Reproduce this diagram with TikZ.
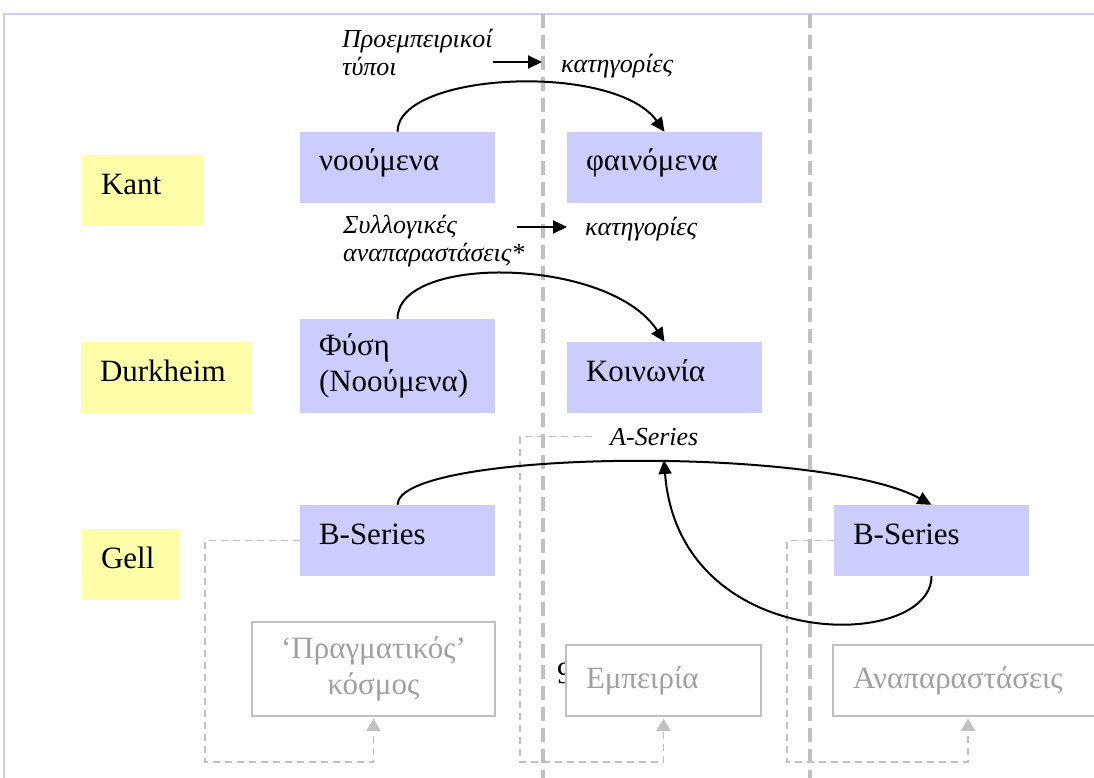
\documentclass[tikz,border=0pt]{standalone}
\usepackage{fontspec}
\setmainfont{Liberation Serif}
\usetikzlibrary{arrows.meta}
\definecolor{boxblue}{HTML}{CCCCFF}
\definecolor{boxyellow}{HTML}{FFFFAA}
\definecolor{linegray}{HTML}{C0C0C0}
\definecolor{textgray}{HTML}{A0A0A0}
\newcommand\bigtxt{\fontsize{31}{36}\selectfont}
\newcommand\smalltxt{\fontsize{26}{27.5}\selectfont\itshape}

\begin{document}
\begin{tikzpicture}[x=1pt,y=-1pt,
    who/.style={fill=boxyellow, font=\bigtxt, align=left, minimum height=71pt,
      inner xsep=19pt, inner ysep=0pt, text height=19pt, text depth=12pt},
    idea/.style={fill=boxblue, font=\bigtxt, align=left, text width=157pt,
      minimum height=71pt, inner xsep=19pt, inner ysep=0pt, text height=19pt, text depth=12pt},
    world/.style={draw=linegray, line width=1.5pt, fill=white, text=textgray, font=\bigtxt,
      align=left, minimum height=71pt, inner xsep=20pt, inner ysep=0pt},
    note/.style={font=\smalltxt, inner sep=0pt, align=left},
    arr/.style={-{Triangle[length=14pt,width=13pt]}, line width=2pt},
    back/.style={linegray, line width=1.5pt, dash pattern=on 7pt off 5pt,
      -{Triangle[length=12pt,width=14pt]}, shorten >=2pt},
    divider/.style={linegray, line width=3.5pt, dash pattern=on 14pt off 7pt}]
  \useasboundingbox (0,0) rectangle (1094,778);
  \clip (0,0) rectangle (1094,778);

  \draw[boxblue, line width=2pt] (1094,14) -- (4,14) -- (4,778);

  %%    % names
  \node[who, text width=84pt] (kant) at (143,190.5) {Kant};
  \node[who, text width=133pt] (durk) at (166.5,377.5) {Durkheim};
  \node[who, text width=60pt] (gell) at (131,564.5) {Gell};

  %%    % Kant
  \node[idea] (nou) at (397.5,167.5) {νοούμενα};
  \node[idea] (fai) at (664.5,167.5) {φαινόμενα};
  \node[note, anchor=north west] (pro) at (342,29) {Προεμπειρικοί\\τύποι};
  \node[note, anchor=base west] (kat1) at (561,73) {κατηγορίες};
  \coordinate (k1s) at (493,62);
  \coordinate (k1e) at (542,62);

  %%    % Durkheim
  \node[idea, text height=, text depth=, minimum height=94pt] (fys) at (397.5,366) {Φύση\\(Νοούμενα)};
  \node[idea] (koi) at (664.5,377.5) {Κοινωνία};
  \node[note, anchor=north west] (syl) at (343,215) {Συλλογικές\\αναπαραστάσεις*};
  \node[note, anchor=base west] (kat2) at (585,235) {κατηγορίες};
  \coordinate (k2s) at (517,227);
  \coordinate (k2e) at (567,227);

  %%    % Gell
  \node[idea] (bl) at (397.5,540.5) {B-Series};
  \node[idea] (br) at (931.5,540.5) {B-Series};
  \node[note, anchor=base west] (aser) at (610,445) {A-Series};
  \coordinate (ameet) at (664,460);

  \node[world, align=center, text width=203pt, minimum height=94pt] (prag) at (373.5,669) {‘Πραγματικός’\\κόσμος};
  \node[font=\bigtxt, anchor=base west, inner sep=0pt] (nine) at (557,683) {9};
  \node[world, text width=155pt] (emp) at (663.5,680.5) {Εμπειρία};
  \node[world, text width=230pt] (anap) at (968,680.5) {Αναπαραστάσεις};

  \coordinate (cl) at (205,762);
  \coordinate (cm) at (520,762);
  \coordinate (cr) at (787,762);

  \draw[divider] (543,14) -- (543,778);
  \draw[divider] (810,14) -- (810,778);

  \draw[back] (bl.west) -| (cl) -| (prag.south);
  \draw[back] ([xshift=-18pt]aser.west) -| (cm) -| (emp.south);
  \draw[back] (br.west) -| (cr) -| (anap.south);

  \draw[arr] (k1s) -- (k1e);
  \draw[arr] (k2s) -- (k2e);
  \draw[arr] (nou.north) .. controls +(0,-60) and +(-50,-70) .. (fai.north);
  \draw[arr] (fys.north) .. controls +(0,-65) and +(-55,-85) .. (koi.north);
  \draw[arr] (bl.north) .. controls +(0,-55) and +(-110,-60) .. (br.north);
  \draw[arr] (br.south) .. controls +(0,75) and +(15,195) .. (ameet);
\end{tikzpicture}
\end{document}
